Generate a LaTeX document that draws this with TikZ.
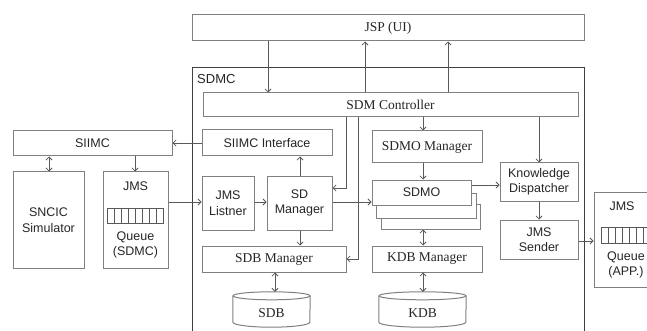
\documentclass[tikz,border=0pt]{standalone}
\usepackage{fontspec}
\setmainfont{Liberation Serif}
\setsansfont{Liberation Sans}
\usetikzlibrary{arrows.meta, positioning, calc}

\definecolor{boxgray}{gray}{0.5}
\definecolor{linegray}{gray}{0.35}

\tikzset{
  box/.style={draw=boxgray, line width=1pt, inner sep=0pt, fill=white, text=black!85,
    font=\fontsize{13.5}{15}\selectfont},
  sbox/.style={box, align=center, font=\sffamily\fontsize{12.5}{15.5}\selectfont},
  stxt/.style={inner sep=0pt, text=black!85, font=\sffamily\fontsize{12.5}{15.5}\selectfont},
  dbtxt/.style={inner sep=0pt, text=black!85, font=\fontsize{13.5}{15}\selectfont},
  link/.style={draw=linegray, line width=0.8pt, -{Straight Barb[length=3pt,width=6pt]}},
  dlink/.style={link, {Straight Barb[length=3pt,width=6pt]}-{Straight Barb[length=3pt,width=6pt]}},
  cyl/.style={draw=boxgray, line width=1pt},
}

\begin{document}
\begin{tikzpicture}[x=1pt, y=-1pt]
  \useasboundingbox (0,0) rectangle (647,331);
  \clip (0,0) rectangle (647,331);
  \fill[white] (0,0) rectangle (647,331);

  % top and container
  \node[box, minimum width=392, minimum height=26] (jsp) at (388,28) {JSP (UI)};
  \node[draw=black!75, line width=1pt, minimum width=392, minimum height=290, anchor=north west] (sdmc) at (192,67) {};
  \node[stxt, font=\sffamily\fontsize{13}{15}\selectfont, anchor=west] (sdmct) at (197,79) {SDMC};
  \node[box, minimum width=375, minimum height=24] (ctrl) at (390.5,105) {SDM Controller};

  % SDMC inside
  \node[sbox, minimum width=130, minimum height=26] (siimcif) at (267,143) {SIIMC Interface};
  \node[box, minimum width=110, minimum height=32] (sdmomgr) at (427,147) {SDMO Manager};
  \node[sbox, minimum width=52, minimum height=54] (jmsl) at (228,203) {JMS\\Listner};
  \node[sbox, minimum width=65, minimum height=54] (sdm) at (299.5,203) {SD\\Manager};
  \node[box, minimum width=99, minimum height=25] (sdmo3) at (430.5,216.5) {};
  \node[box, minimum width=100, minimum height=25] (sdmo2) at (426,205.5) {};
  \node[sbox, minimum width=99, minimum height=25] (sdmo) at (421.5,192.5) {SDMO};
  \node[sbox, minimum width=78, minimum height=38] (kd) at (539,182) {Knowledge\\Dispatcher};
  \node[sbox, minimum width=78, minimum height=39] (jmss) at (539,239.5) {JMS\\Sender};
  \node[box, minimum width=144, minimum height=26] (sdbm) at (274,259) {SDB Manager};
  \node[box, minimum width=110, minimum height=26] (kdbm) at (427,259) {KDB Manager};

  % databases
  \node[inner sep=0pt, minimum width=77, minimum height=35] (sdb) at (271.5,309.5) {};
  \node[inner sep=0pt, minimum width=87, minimum height=35] (kdb) at (422.5,309.5) {};
  \draw[cyl] (sdb.north) ++(0,4) ellipse [x radius=38.5pt, y radius=4pt];
  \draw[cyl] ([yshift=-4pt]sdb.north west) -- ([yshift=5pt]sdb.south west)
    arc[start angle=180, end angle=360, x radius=38.5pt, y radius=5pt] -- ([yshift=-4pt]sdb.north east);
  \draw[cyl] (kdb.north) ++(0,4) ellipse [x radius=43.5pt, y radius=4pt];
  \draw[cyl] ([yshift=-4pt]kdb.north west) -- ([yshift=5pt]kdb.south west)
    arc[start angle=180, end angle=360, x radius=43.5pt, y radius=5pt] -- ([yshift=-4pt]kdb.north east);
  \node[dbtxt] (sdbt) at (271.5,313) {SDB};
  \node[dbtxt] (kdbt) at (422.5,313) {KDB};

  % left side
  \node[sbox, minimum width=159, minimum height=25] (siimc) at (92.5,143.5) {SIIMC};
  \node[sbox, minimum width=71, minimum height=96] (sncic) at (48.5,220) {SNCIC\\Simulator};
  \node[box, minimum width=65, minimum height=96] (jmsq) at (135.5,220) {};
  \node[stxt] (jmsqa) at (135.5,186) {JMS};
  \node[stxt, align=center] (jmsqb) at (135.5,245) {Queue\\(SDMC)};
  \foreach \i in {0,...,7}
    \draw[draw=linegray, line width=0.7pt] (107+7*\i,208) rectangle ++(7,15);

  % right side
  \node[box, minimum width=61, minimum height=95] (jmsa) at (624.5,239.5) {};
  \node[stxt] (jmsaa) at (622,206) {JMS};
  \node[stxt, align=center] (jmsab) at (626,265) {Queue\\(APP.)};
  \foreach \i in {0,...,7}
    \draw[draw=linegray, line width=0.7pt] (601+7*\i,227) rectangle ++(7,16);

  % connectors
  \draw[link] (268,0 |- jsp.south) -- (268,0 |- ctrl.north);
  \draw[link] (365,0 |- ctrl.north) -- (365,0 |- jsp.south);
  \draw[link] (448,0 |- ctrl.north) -- (448,0 |- jsp.south);
  \draw[link] (423,0 |- ctrl.south) -- (423,0 |- sdmomgr.north);
  \draw[link] (kd.north |- ctrl.south) -- (kd.north);
  \draw[link] (346,0 |- ctrl.south) |- (sdm.east |- 0,188);
  \draw[link] (358,0 |- ctrl.south) |- (sdbm.east);
  \draw[link] (siimcif.west) -- (siimc.east |- siimcif.west);
  \draw[dlink] (49,0 |- siimc.south) -- (49,0 |- sncic.north);
  \draw[link] (135,0 |- siimc.south) -- (135,0 |- jmsq.north);
  \draw[link] (jmsq.east |- 0,202) -- (jmsl.west |- 0,202);
  \draw[link] (jmsl.east |- 0,202) -- (sdm.west |- 0,202);
  \draw[link] (300,0 |- sdm.north) -- (300,0 |- siimcif.south);
  \draw[link] (300,0 |- sdm.south) -- (300,0 |- sdbm.north);
  \draw[link] (sdm.east |- 0,202) -- (sdmo.west |- 0,202);
  \draw[link] (423,0 |- sdmomgr.south) -- (423,0 |- sdmo.north);
  \draw[link] (sdmo.east |- 0,185) -- (kd.west |- 0,185);
  \draw[dlink] (423,0 |- sdmo3.south) -- (423,0 |- kdbm.north);
  \draw[dlink] (423,0 |- kdbm.south) -- (423,0 |- kdb.north);
  \draw[dlink] (275,0 |- sdbm.south) -- (275,0 |- sdb.north);
  \draw[link] (kd.south) -- (jmss.north);
  \draw[link] (jmss.east |- 0,241) -- (jmsa.west |- 0,241);
\end{tikzpicture}
\end{document}
